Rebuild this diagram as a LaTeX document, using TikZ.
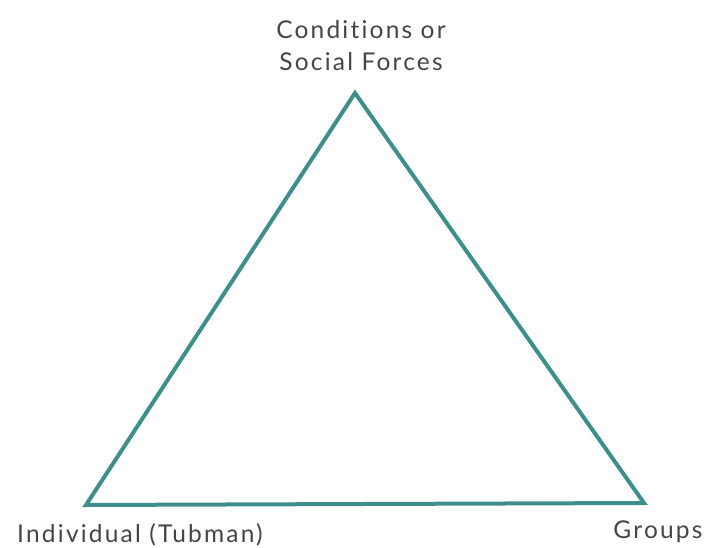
\documentclass[tikz,border=0pt]{standalone}
\usepackage{fontspec}
\setmainfont{Lato}[LetterSpace=9,Ligatures=NoCommon]
\definecolor{tealline}{HTML}{3E8F8C}
\definecolor{labelgray}{HTML}{454545}
\begin{document}
\begin{tikzpicture}[x=1pt,y=-1pt,
  lbl/.style={text=labelgray,font=\fontsize{24.5}{32}\selectfont,inner sep=0pt,align=center},
  edge/.style={draw=tealline,line width=4pt,line join=miter}]
\useasboundingbox (0,0) rectangle (710,548);
\coordinate (top) at (355,93);
\coordinate (bl) at (86,505);
\coordinate (br) at (644,503);
\draw[edge] (top) -- (bl) -- (br) -- cycle;
\node[lbl] (tlab) at (361,46) {Conditions or\\Social Forces};
\node[lbl] (bllab) at (140,535) {Individual (Tubman)};
\node[lbl] (brlab) at (658,532) {Groups};
\end{tikzpicture}
\end{document}
